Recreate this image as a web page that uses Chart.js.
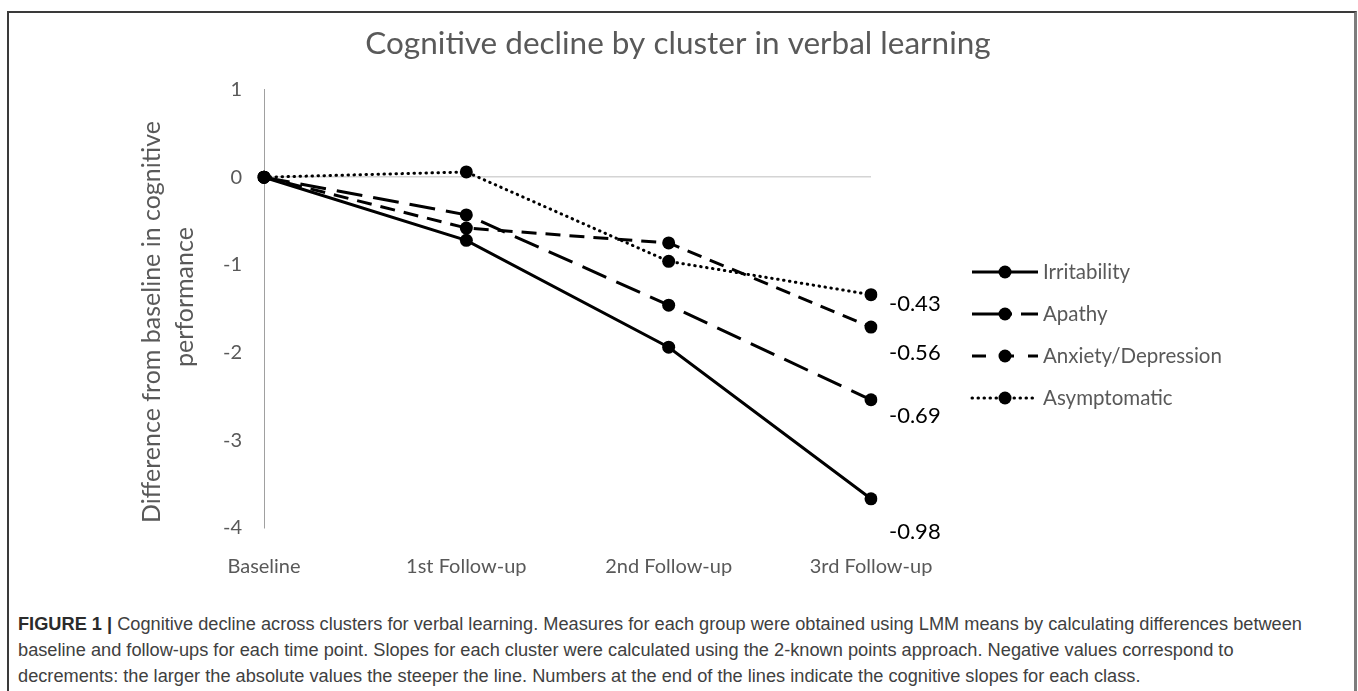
<!DOCTYPE html>
<html><head><meta charset="utf-8">
<script src="https://cdn.jsdelivr.net/npm/chart.js@4/dist/chart.umd.min.js"></script>
<style>
html,body{margin:0;padding:0;background:#fff;width:1358px;height:691px;overflow:hidden;}
#frame{position:absolute;left:7px;top:11px;width:1345px;height:700px;border-top:2px solid #3a3a3a;border-left:2px solid #3a3a3a;border-right:3px solid #7d7d7d;}
#wrap{position:absolute;left:0;top:0;width:1358px;height:590px;}
#cap{position:absolute;left:18px;top:611px;font-family:"Liberation Sans",Arial,sans-serif;font-size:17.5px;line-height:26px;color:#404040;white-space:nowrap;}
#cap div{transform-origin:0 50%;display:inline-block;}
#cap b{color:#2b2b2b;}
</style></head><body>
<div id="frame"></div>
<div id="wrap"><canvas id="c" width="1358" height="590"></canvas></div>
<div id="cap"><div><b>FIGURE 1 |</b> Cognitive decline across clusters for verbal learning. Measures for each group were obtained using LMM means by calculating differences between</div><br><div>baseline and follow-ups for each time point. Slopes for each cluster were calculated using the 2-known points approach. Negative values correspond to</div><br><div>decrements: the larger the absolute values the steeper the line. Numbers at the end of the lines indicate the cognitive slopes for each class.</div></div>
<script>
const categories = ['Baseline', '1st Follow-up', '2nd Follow-up', '3rd Follow-up'];
const irritability = [0, -0.72, -1.94, -3.67];
const apathy = [0, -0.43, -1.46, -2.54];
const anxietyDepression = [0, -0.58, -0.75, -1.71];
const asymptomatic = [0, 0.06, -0.96, -1.34];
const seriesNames = ['Irritability', 'Apathy', 'Anxiety/Depression', 'Asymptomatic'];
const slopeLabels = ['-0.98', '-0.69', '-0.56', '-0.43'];
const yTickValues = [1, 0, -1, -2, -3, -4];
const chartTitle = 'Cognitive decline by cluster in verbal learning';
const yTitleLines = ['Difference from baseline in cognitive', 'performance'];

// uniform horizontal fit of the caption (first line spans the reference width)
(function () {
  const lines = document.querySelectorAll('#cap div');
  const s = 1284 / lines[0].getBoundingClientRect().width;
  lines.forEach(d => { d.style.transform = 'scaleX(' + s + ')'; });
})();

const FONT = 'Lato, "Open Sans", sans-serif';
const GREY = '#595959';
const dashes = [[], [26, 11], [15, 9], [0.5, 5.5]];
const legendDashes = [[], [40, 9], [14, 14], [0.5, 5.5]];
const seriesValues = [irritability, apathy, anxietyDepression, asymptomatic];
const slopeOffsets = [33, 16, 26, 9];

const datasets = seriesNames.map((name, i) => ({
  label: name,
  data: seriesValues[i],
  borderColor: '#000',
  backgroundColor: '#000',
  borderWidth: 3,
  borderDash: dashes[i],
  borderCapStyle: i === 3 ? 'round' : 'butt',
  pointRadius: 6.5,
  pointBackgroundColor: '#000',
  pointBorderWidth: 0,
  tension: 0,
  fill: false
}));

const overlay = {
  id: 'overlay',
  afterDraw(chart) {
    const ctx = chart.ctx;
    // chart title
    ctx.save();
    ctx.fillStyle = GREY;
    ctx.font = '31.5px ' + FONT;
    ctx.textAlign = 'center';
    ctx.textBaseline = 'middle';
    ctx.fillText(chartTitle, 678, 44);
    ctx.restore();
    // y-axis title
    ctx.save();
    ctx.fillStyle = GREY;
    ctx.font = '25px ' + FONT;
    ctx.textAlign = 'center';
    ctx.textBaseline = 'middle';
    ctx.translate(152, 0);
    ctx.rotate(-Math.PI / 2);
    ctx.fillText(yTitleLines[0], -322, 0);
    ctx.fillText(yTitleLines[1], -297, 33);
    ctx.restore();
    // slope labels
    ctx.save();
    ctx.fillStyle = '#000';
    ctx.font = '22px ' + FONT;
    ctx.textAlign = 'left';
    ctx.textBaseline = 'middle';
    chart.data.datasets.forEach((ds, i) => {
      const meta = chart.getDatasetMeta(i);
      const p = meta.data[meta.data.length - 1];
      ctx.fillText(slopeLabels[i], p.x + 18, p.y + slopeOffsets[i]);
    });
    ctx.restore();
    // legend
    ctx.save();
    chart.data.datasets.forEach((ds, i) => {
      const y = 272 + i * 42;
      ctx.strokeStyle = '#000';
      ctx.lineWidth = 3;
      ctx.lineCap = ds.borderCapStyle;
      ctx.setLineDash(legendDashes[i]);
      ctx.beginPath();
      ctx.moveTo(972, y);
      ctx.lineTo(1038, y);
      ctx.stroke();
      ctx.setLineDash([]);
      ctx.fillStyle = '#000';
      ctx.beginPath();
      ctx.arc(1005, y, 6.5, 0, Math.PI * 2);
      ctx.fill();
      ctx.fillStyle = GREY;
      ctx.font = '20.5px ' + FONT;
      ctx.textAlign = 'left';
      ctx.textBaseline = 'middle';
      ctx.fillText(ds.label, 1043, y);
    });
    ctx.restore();
  }
};

new Chart(document.getElementById('c'), {
  type: 'line',
  data: { labels: categories, datasets },
  plugins: [overlay],
  options: {
    responsive: false,
    animation: false,
    devicePixelRatio: 1,
    layout: { padding: { left: 219, right: 487, top: 89.6, bottom: 0 } },
    plugins: {
      legend: { display: false },
      tooltip: { enabled: false },
      title: { display: false }
    },
    scales: {
      x: {
        type: 'category',
        offset: false,
        grid: { display: false, drawTicks: false },
        border: { display: false },
        ticks: { color: GREY, font: { family: FONT, size: 20 }, padding: 27, maxRotation: 0, autoSkip: false },
        afterFit(s) { s.height = 62.3; }
      },
      y: {
        min: -4, max: 1,
        afterBuildTicks(s) { s.ticks = yTickValues.map(v => ({ value: v })); },
        grid: {
          drawTicks: false,
          color: c => (c.tick && c.tick.value === 0) ? '#d4d4d4' : 'rgba(0,0,0,0)',
          lineWidth: 1.5
        },
        border: { display: true, color: '#a0a0a0', width: 1 },
        ticks: { color: GREY, font: { family: FONT, size: 20 }, padding: 22 },
        afterFit(s) { s.width = 45; }
      }
    }
  }
});
</script>
</body></html>
